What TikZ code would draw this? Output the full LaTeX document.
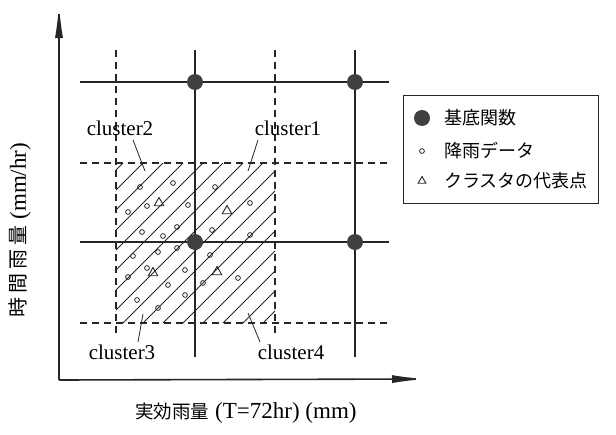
\documentclass[tikz,border=0pt]{standalone}
\usepackage{fontspec}
\setmainfont{Liberation Serif}
\newfontfamily\jp{Noto Sans CJK JP}
\usetikzlibrary{arrows.meta,shapes.geometric}
\begin{document}
\begin{tikzpicture}[x=1pt,y=-1pt,
  gridline/.style={line width=1.3pt, black!85},
  dashline/.style={line width=1.1pt, dash pattern=on 7pt off 5pt, black!85},
  axisline/.style={line width=1.6pt, black!85, -{Latex[length=34pt,width=8pt]}},
  basis/.style={circle, fill=black!75, minimum size=16pt, inner sep=0pt},
  rain/.style={circle, draw=black!85, line width=0.8pt, minimum size=4.8pt, inner sep=0pt},
  rep/.style={regular polygon, regular polygon sides=3, draw=black!85, line width=0.9pt, minimum size=11pt, inner sep=0pt},
  hatch/.style={line width=0.9pt, black!85},
  clabel/.style={font=\fontsize{21}{21}\selectfont, inner sep=0pt},
  pointer/.style={line width=0.8pt, black!85},
  legtext/.style={font=\jp\fontsize{18}{18}\selectfont, anchor=west, inner sep=0pt}
]
\useasboundingbox (0,0) rectangle (616,434);

% axes
\coordinate (O) at (59,380);
\coordinate (Ytip) at (59,4);
\coordinate (Xtip) at (426,379);
\draw[axisline] (O) -- (Ytip);
\draw[axisline] (O) -- (Xtip);

% hatched region
\begin{scope}
  \clip (116,163) rectangle (275,323);
  \foreach \k in {-9,...,7}
    \draw[hatch] ({123+20*\k},323) -- ++(175,-175);
\end{scope}

% dashed grid
\coordinate (dv1t) at (116,50); \coordinate (dv1b) at (116,337);
\coordinate (dv2t) at (275,50); \coordinate (dv2b) at (275,337);
\coordinate (dh1l) at (80,163); \coordinate (dh1r) at (389,163);
\coordinate (dh2l) at (80,323); \coordinate (dh2r) at (389,323);
\draw[dashline] (dv1t) -- (dv1b);
\draw[dashline] (dv2t) -- (dv2b);
\draw[dashline] (dh1l) -- (dh1r);
\draw[dashline] (dh2l) -- (dh2r);

% solid grid
\coordinate (sv1t) at (195,50); \coordinate (sv1b) at (195,357);
\coordinate (sv2t) at (355,50); \coordinate (sv2b) at (355,357);
\coordinate (sh1l) at (80,82); \coordinate (sh1r) at (389,82);
\coordinate (sh2l) at (80,242); \coordinate (sh2r) at (389,242);
\draw[gridline] (sv1t) -- (sv1b);
\draw[gridline] (sv2t) -- (sv2b);
\draw[gridline] (sh1l) -- (sh1r);
\draw[gridline] (sh2l) -- (sh2r);

% basis functions
\node[basis] (b1) at (195,82) {};
\node[basis] (b2) at (355,82) {};
\node[basis] (b3) at (195,242) {};
\node[basis] (b4) at (355,242) {};

% rain data
\foreach \px/\py [count=\i] in {140/187,173/183,215/187,147/206,128/212,188/205,250/203,
  142/232,163/236,177/227,212/230,250/235,133/256,158/252,177/248,210/255,
  147/268,128/277,185/270,168/285,203/283,238/278,137/300,185/295,158/308}
  \node[rain] (r\i) at (\px,\py) {};

% cluster representatives
\node[rep] (t1) at (159,203) {};
\node[rep] (t2) at (227,211) {};
\node[rep] (t3) at (153,273) {};
\node[rep] (t4) at (217,272) {};

% cluster labels
\node[clabel] (c2) at (120,128) {cluster2};
\node[clabel] (c1) at (288,128) {cluster1};
\node[clabel] (c3) at (122,352) {cluster3};
\node[clabel] (c4) at (291,352) {cluster4};
\coordinate (p2) at (145,171);
\coordinate (p1) at (248,171);
\coordinate (p3) at (143,314);
\coordinate (p4) at (248,313);
\draw[pointer] (133,140) -- (p2);
\draw[pointer] (258,140) -- (p1);
\draw[pointer] (138,342) -- (p3);
\draw[pointer] (260,342) -- (p4);

% legend
\node[draw=black!85, line width=1pt, minimum width=195pt, minimum height=108pt, anchor=north west, inner sep=0pt] (leg) at (403,95) {};
\node[basis] (lb) at (422,118) {};
\node[legtext] (lbt) at (444,118) {基底関数};
\node[rain] (lr) at (422,151) {};
\node[legtext] (lrt) at (444,151) {降雨データ};
\node[rep, minimum size=9pt] (lt) at (422,181) {};
\node[legtext] (ltt) at (444,181) {クラスタの代表点};

% axis labels
\node[inner sep=0pt] (xl) at (246,413) {{\jp\fontsize{18.5}{18.5}\selectfont 実効雨量}\fontsize{23}{23}\selectfont\ (T=72hr) (mm)};
\node[inner sep=0pt, rotate=90] (yl) at (20,230) {{\jp\fontsize{20}{20}\selectfont 時\hspace{4pt}間\hspace{4pt}雨\hspace{4pt}量}\fontsize{23}{23}\selectfont\ (mm/hr)};
\end{tikzpicture}
\end{document}
